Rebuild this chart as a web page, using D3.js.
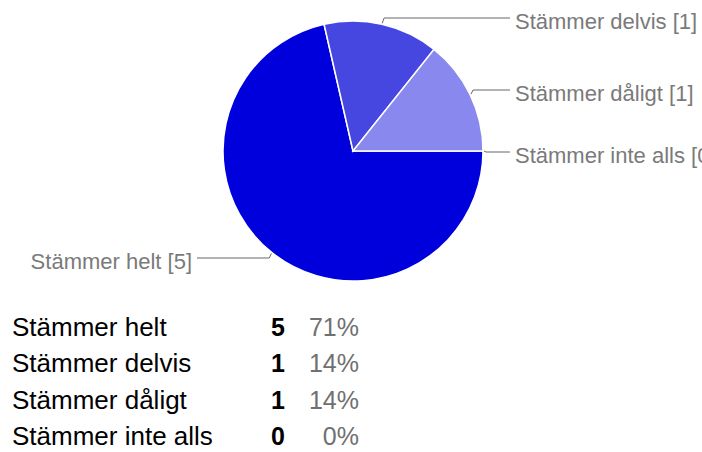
<!DOCTYPE html>
<html>
<head>
<meta charset="utf-8">
<script src="https://cdn.jsdelivr.net/npm/d3@7"></script>
<style>
  body { margin: 0; background: #fff; overflow: hidden; }
  text { font-family: "Liberation Sans", Arial, sans-serif; }
</style>
</head>
<body>
<div id="chart"></div>
<script>
const categories = ["Stämmer helt", "Stämmer delvis", "Stämmer dåligt", "Stämmer inte alls"];
const counts = [5, 1, 1, 0];
const percents = ["71%", "14%", "14%", "0%"];
const colors = ["#0000dd", "#4646e0", "#8888ee", "#c0c0f6"];

const width = 702;
const height = 452;
const cx = 353, cy = 151, radius = 130;

const svg = d3.select("#chart")
    .append("svg")
    .attr("width", width)
    .attr("height", height);

const data = categories.map(function(c, i) {
    return { name: c, value: counts[i], color: colors[i], pct: percents[i] };
});

//----------------------------PIE-----------------------------//
// start at 3 o'clock, go clockwise
const pie = d3.pie()
    .sort(null)
    .value(function(d) { return d.value; })
    .startAngle(Math.PI / 2)
    .endAngle(Math.PI / 2 + 2 * Math.PI);

const arcs = pie(data);
const arc = d3.arc().innerRadius(0).outerRadius(radius);

const g = svg.append("g").attr("transform", "translate(" + cx + "," + cy + ")");

g.selectAll("path.slice")
    .data(arcs.filter(function(d) { return d.value > 0; }))
    .enter()
    .append("path")
    .attr("class", "slice")
    .attr("d", arc)
    .attr("fill", function(d) { return d.data.color; })
    .attr("stroke", "#fff")
    .attr("stroke-width", 1.5);

//--------------------------CALLOUTS--------------------------//
const labelY = [107, -133, -61, 1];  // line rows, relative to centre
const rightEnd = 157, rightText = 162;
const leftEnd = -156, leftText = -161;

arcs.forEach(function(d, i) {
    const mid = (d.startAngle + d.endAngle) / 2;
    const px = Math.sin(mid) * (radius + 1);
    const py = -Math.cos(mid) * (radius + 1);
    const right = px >= -1;
    const ly = labelY[i];
    const kx = right ? px + 2 : px - 2;

    g.append("path")
        .attr("d", "M" + px + "," + py + " L" + kx + "," + ly + " L" + (right ? rightEnd : leftEnd) + "," + ly)
        .attr("fill", "none")
        .attr("stroke", "#666")
        .attr("stroke-width", 1);

    g.append("text")
        .attr("x", right ? rightText : leftText)
        .attr("y", ly)
        .attr("dy", "0.5em")
        .attr("text-anchor", right ? "start" : "end")
        .attr("font-size", 22)
        .attr("fill", "#7a7a7a")
        .text(d.data.name + " [" + d.data.value + "]");
});

//---------------------------TABLE----------------------------//
const rowY = d3.scalePoint()
    .domain(categories)
    .range([336, 445]);

const rows = svg.selectAll("g.row")
    .data(data)
    .enter()
    .append("g")
    .attr("class", "row")
    .attr("transform", function(d) { return "translate(0," + rowY(d.name) + ")"; });

rows.append("text")
    .attr("x", 12)
    .attr("font-size", 26)
    .attr("fill", "#000")
    .text(function(d) { return d.name; });

rows.append("text")
    .attr("x", 285)
    .attr("text-anchor", "end")
    .attr("font-size", 25)
    .attr("font-weight", "bold")
    .attr("fill", "#000")
    .text(function(d) { return d.value; });

rows.append("text")
    .attr("x", 359)
    .attr("text-anchor", "end")
    .attr("font-size", 25)
    .attr("fill", "#707070")
    .text(function(d) { return d.pct; });
</script>
</body>
</html>
